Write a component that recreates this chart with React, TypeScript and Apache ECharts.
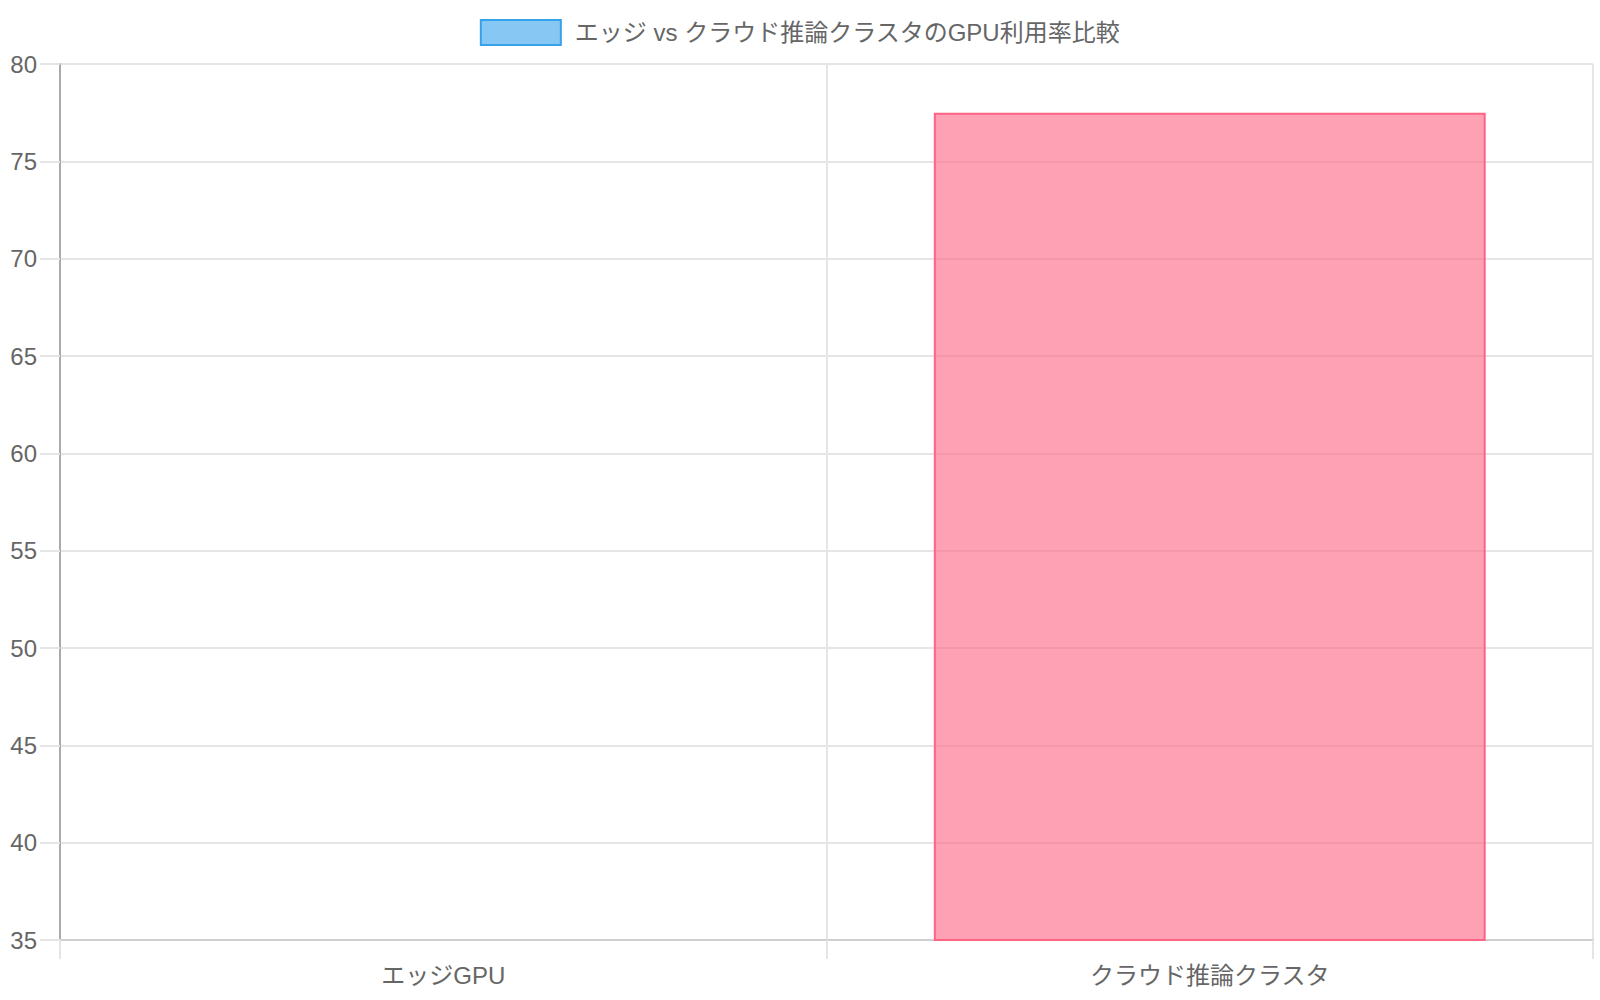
import { useEffect, useRef } from "react";
import * as echarts from "echarts";

const categories = ["エッジGPU", "クラウド推論クラスタ"];
const utilization = [32, 77.5];
const seriesName = "エッジ vs クラウド推論クラスタのGPU利用率比較";
const yMin = 35;
const yMax = 80;
const yStep = 5;

const fontFamily = "'Liberation Sans', Arial, 'Noto Sans CJK JP', sans-serif";
const textColor = "#666";
const gridColor = "#e5e5e5";

const blueFill = "rgba(54, 162, 235, 0.6)";
const blueLine = "rgb(54, 162, 235)";
const pinkFill = "rgba(255, 99, 132, 0.6)";
const pinkLine = "rgb(255, 99, 132)";

export default function App() {
  const ref = useRef<HTMLDivElement | null>(null);

  useEffect(() => {
    if (!ref.current) return;
    const chart = echarts.init(ref.current, undefined, { renderer: "svg" });

    const option: echarts.EChartsOption = {
      animation: false,
      backgroundColor: "#fff",
      textStyle: { fontFamily },
      legend: {
        top: 14,
        left: "center",
        icon: "rect",
        itemWidth: 80,
        itemHeight: 25,
        itemStyle: { color: blueFill, borderColor: blueLine, borderWidth: 2 },
        textStyle: { color: textColor, fontSize: 24, fontFamily, padding: [0, 0, 0, 9] },
        data: [seriesName],
      },
      grid: { left: 60, right: 7, top: 64, bottom: 60, containLabel: false },
      xAxis: {
        type: "category",
        data: categories,
        boundaryGap: true,
        axisLine: { show: true, lineStyle: { color: "#cfcfcf", width: 2 } },
        axisTick: { show: true, length: 19, lineStyle: { color: gridColor, width: 2 } },
        axisLabel: { color: textColor, fontSize: 24, fontFamily, margin: 23 },
        splitLine: { show: true, lineStyle: { color: gridColor, width: 2 } },
      },
      yAxis: {
        type: "value",
        min: yMin,
        max: yMax,
        interval: yStep,
        axisLine: { show: true, lineStyle: { color: "#aaaaaa", width: 2 } },
        axisTick: { show: true, length: 20, lineStyle: { color: gridColor, width: 2 } },
        axisLabel: { color: textColor, fontSize: 24, fontFamily, margin: 23 },
        splitLine: { show: true, lineStyle: { color: gridColor, width: 2 } },
      },
      series: [
        {
          name: seriesName,
          type: "bar",
          barWidth: "72%",
          clip: true,
          itemStyle: { color: blueFill, borderColor: blueLine, borderWidth: 2 },
          data: utilization.map((v, i) =>
            i === 1
              ? { value: v, itemStyle: { color: pinkFill, borderColor: pinkLine, borderWidth: 2 } }
              : { value: v }
          ),
        },
      ],
    };

    chart.setOption(option);
    return () => chart.dispose();
  }, []);

  return (
    <div style={{ position: "fixed", left: 0, top: 0, width: 1600, height: 1000, background: "#fff" }}>
      <div ref={ref} style={{ width: 1600, height: 1000 }} />
    </div>
  );
}
